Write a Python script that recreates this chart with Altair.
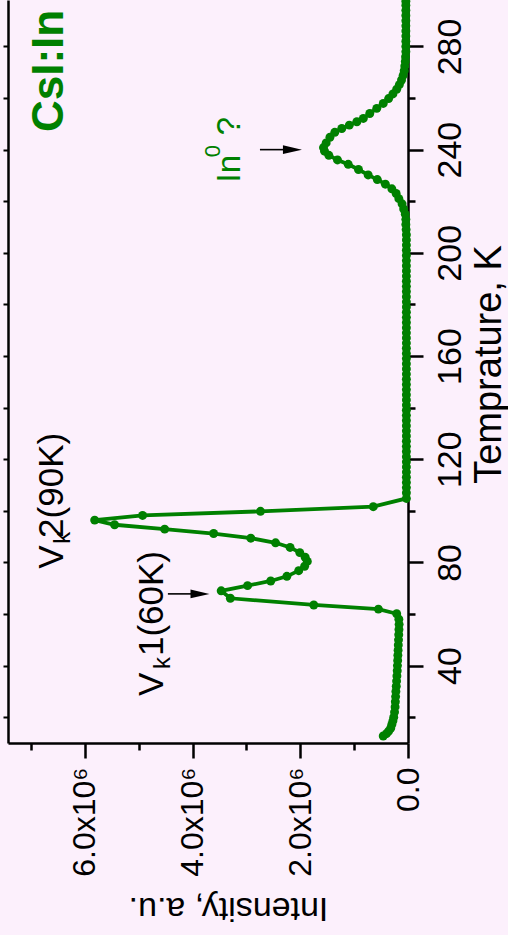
import altair as alt
import pandas as pd

GREEN = "#008000"
BG = "#FCF0FC"
FONT = "Liberation Sans"

# ---- thermoluminescence curve: temperature (K) and intensity (units of 1e6) ----
temperature_K = [
    12.7, 13.6, 14.6, 15.8, 17.2, 18.6, 20, 22, 24, 26, 28, 30, 32, 34, 36, 38,
    40, 42, 44, 46, 48, 50, 52, 54, 56, 58, 60.1,
    61.9, 63.5, 66.1, 69.0, 71.0, 72.8, 74.6, 76.8, 78.5, 80.4, 82.0, 83.8,
    85.8, 87.6, 89.4, 91.2, 92.9, 94.6, 96.4, 98.2, 99.8, 101.6, 104.8,
    107, 109, 111, 113, 115, 117, 119, 121, 123, 125, 127, 129, 131, 133, 135,
    137, 139, 141, 143, 145, 147, 149, 151, 153, 155, 157, 159, 161, 163, 165,
    167, 169, 171, 173, 175, 177, 179, 181, 183, 185, 187, 189, 191, 193, 195,
    197, 199, 201, 203, 205, 207, 209, 211, 213,
    215, 217, 219, 221, 223, 224.8, 226.6, 228.4, 230.2, 232.3, 234.3, 236.0,
    237.8, 239.4, 240.8, 242.6, 244.8, 246.7, 248.2, 249.5, 250.8, 252.1,
    254.0, 256.0, 257.9, 259.8, 261.6, 263.4, 265.2, 267.0, 268.8, 270.6,
    272.4, 274.2, 276, 278, 280, 282, 284, 286, 288, 290, 292, 294, 296, 297.5,
]
intensity_1e6 = [
    0.46, 0.40, 0.36, 0.32, 0.30, 0.28, 0.265, 0.25, 0.24, 0.235, 0.23, 0.225,
    0.218, 0.212, 0.206, 0.20, 0.196, 0.192, 0.188, 0.184, 0.18, 0.176, 0.172,
    0.168, 0.165, 0.17, 0.21,
    0.55, 1.75, 3.30, 3.47, 2.98, 2.55, 2.25, 2.03, 1.92, 1.87, 1.91, 2.01,
    2.19, 2.46, 2.92, 3.61, 4.52, 5.45, 5.82, 4.93, 2.74, 0.645, 0.03,
    0.03, 0.03, 0.03, 0.03, 0.03, 0.03, 0.03, 0.03, 0.03, 0.03, 0.03, 0.03,
    0.03, 0.03, 0.03, 0.03, 0.03, 0.03, 0.03, 0.03, 0.03, 0.03, 0.03, 0.03,
    0.03, 0.03, 0.03, 0.03, 0.03, 0.03, 0.03, 0.03, 0.03, 0.03, 0.03, 0.03,
    0.03, 0.03, 0.03, 0.03, 0.03, 0.03, 0.03, 0.03, 0.03, 0.03, 0.03, 0.03,
    0.03, 0.03, 0.03, 0.035, 0.04, 0.04,
    0.05, 0.08, 0.11, 0.17, 0.22, 0.30, 0.42, 0.57, 0.74, 0.92, 1.11, 1.31,
    1.47, 1.55, 1.57, 1.52, 1.45, 1.36, 1.23, 1.09, 0.95, 0.83,
    0.71, 0.58, 0.46, 0.36, 0.28, 0.21, 0.16, 0.12, 0.09, 0.07,
    0.06, 0.05, 0.045, 0.04, 0.04, 0.04, 0.04, 0.04, 0.04, 0.04, 0.04, 0.04,
    0.04, 0.04,
]

# ---- axis ticks ----
intensity_ticks = [0, 1e6, 2e6, 3e6, 4e6, 5e6, 6e6, 7e6]
temperature_ticks = [20, 40, 60, 80, 100, 120, 140, 160, 180, 200, 220, 240, 260, 280]

# ---- annotations (text, T, intensity in 1e6) ----
green_big = {"text": ["CsI:In"], "T": [246.8], "I": [6.41]}
green_main = {"text": ["In", "?"], "T": [227.3, 245.6], "I": [3.12, 3.12]}
green_sup = {"text": ["0"], "T": [237.0], "I": [3.49]}
black_main = {"text": ["V", "2(90K)", "V", "1(60K)"],
              "T": [77.5, 89.5, 28.2, 43.7], "I": [6.41, 6.41, 4.55, 4.55]}
black_sub = {"text": ["k", "k"], "T": [87.2, 38.7], "I": [6.28, 4.42]}
arrow_shaft = {"T": [240.0, 67.8], "I0": [2.75, 4.46], "I1": [2.28, 4.01]}
arrow_head = {"T": [240.0, 67.8], "I": [2.146, 3.864]}

df = pd.DataFrame({
    "T": temperature_K,
    "I": [v * 1e6 for v in intensity_1e6],
    "order": list(range(len(temperature_K))),
})

xs = alt.Scale(domain=[0, 7.43e6], reverse=True, nice=False, zero=False)
ys = alt.Scale(domain=[10, 298], nice=False, zero=False)

x_axis = alt.Axis(
    orient="bottom", values=intensity_ticks,
    tickSize={"condition": {"test": "datum.value % 2000000 === 0", "value": 15}, "value": 7},
    tickWidth=2.5, tickColor="black", domainColor="black", domainWidth=2.5,
    labelExpr="datum.value % 2000000 === 0 ? (datum.value === 0 ? '0.0' : format(datum.value/1e6, '.1f') + 'x10\u2076') : ''",
    labelAngle=270, labelAlign="right", labelBaseline="middle", labelPadding=9,
    labelFont=FONT, labelFontSize=32, labelColor="black",
    labelOverlap=False, labelFlush=False, grid=False,
    title="Intensity, a.u.", titleAngle=180, titleX=220, titleY=164,
    titleAlign="center", titleBaseline="middle", titleFont=FONT,
    titleFontSize=34, titleFontWeight="normal", titleColor="black",
)
y_axis_right = alt.Axis(
    orient="right", values=temperature_ticks,
    tickSize={"condition": {"test": "datum.value % 40 === 0", "value": 15}, "value": 7},
    tickWidth=2.5, tickColor="black", domainColor="black", domainWidth=2.5,
    labelExpr="datum.value % 40 === 0 ? datum.label : ''",
    labelAngle=270, labelAlign="center", labelBaseline="alphabetic", labelPadding=37,
    labelFont=FONT, labelFontSize=34, labelColor="black",
    labelOverlap=False, labelFlush=False, grid=False,
    title="Temprature, K", titleAngle=270, titleX=81, titleY=364,
    titleAlign="center", titleBaseline="middle", titleFont=FONT,
    titleFontSize=38, titleFontWeight="normal", titleColor="black",
)
y_axis_left = alt.Axis(
    orient="left", values=temperature_ticks, tickSize=5, tickWidth=2,
    tickColor="black", domainColor="black", domainWidth=2.5,
    labels=False, title=None, grid=False,
)

base = alt.Chart(df)
line = base.mark_line(color=GREEN, strokeWidth=3.8).encode(
    x=alt.X("I:Q", scale=xs, axis=x_axis),
    y=alt.Y("T:Q", scale=ys, axis=y_axis_right),
    order="order:Q",
)
pts = base.mark_circle(color=GREEN, size=80, opacity=1).encode(
    x=alt.X("I:Q", scale=xs, axis=None),
    y=alt.Y("T:Q", scale=ys, axis=None),
)
frame = base.mark_circle(opacity=0).encode(
    x=alt.X("I:Q", scale=xs, axis=None),
    y=alt.Y("T:Q", scale=ys, axis=y_axis_left),
)


def text_layer(d, size, color, weight="normal"):
    t = pd.DataFrame(d)
    t["I"] = t["I"] * 1e6
    return alt.Chart(t).mark_text(
        angle=270, align="left", baseline="alphabetic", font=FONT,
        fontSize=size, color=color, fontWeight=weight,
    ).encode(
        x=alt.X("I:Q", scale=xs, axis=None),
        y=alt.Y("T:Q", scale=ys, axis=None),
        text="text:N",
    )


sh = pd.DataFrame(arrow_shaft)
sh["I0"] = sh["I0"] * 1e6
sh["I1"] = sh["I1"] * 1e6
shafts = alt.Chart(sh).mark_rule(color="black", strokeWidth=1.6).encode(
    x=alt.X("I0:Q", scale=xs, axis=None),
    x2="I1:Q",
    y=alt.Y("T:Q", scale=ys, axis=None),
)
hd = pd.DataFrame(arrow_head)
hd["I"] = hd["I"] * 1e6
heads = alt.Chart(hd).mark_point(
    shape="M-1,-0.45L1,0L-1,0.45Z", filled=True, color="black", opacity=1, size=361,
    strokeWidth=0,
).encode(
    x=alt.X("I:Q", scale=xs, axis=None),
    y=alt.Y("T:Q", scale=ys, axis=None),
)

chart = alt.layer(
    line, pts, frame,
    text_layer(green_big, 44, GREEN, "bold"),
    text_layer(green_main, 33, GREEN),
    text_layer(green_sup, 22, GREEN),
    text_layer(black_main, 35, "black"),
    text_layer(black_sub, 24, "black"),
    shafts, heads,
).resolve_axis(x="independent", y="independent").properties(
    width=400, height=743,
    autosize=alt.AutoSizeParams(type="none"),
    padding={"left": 8, "top": 0, "right": 100, "bottom": 192},
    background=BG,
).configure_view(stroke=None)

chart.save("out.html", embed_options={"renderer": "svg", "actions": False})
